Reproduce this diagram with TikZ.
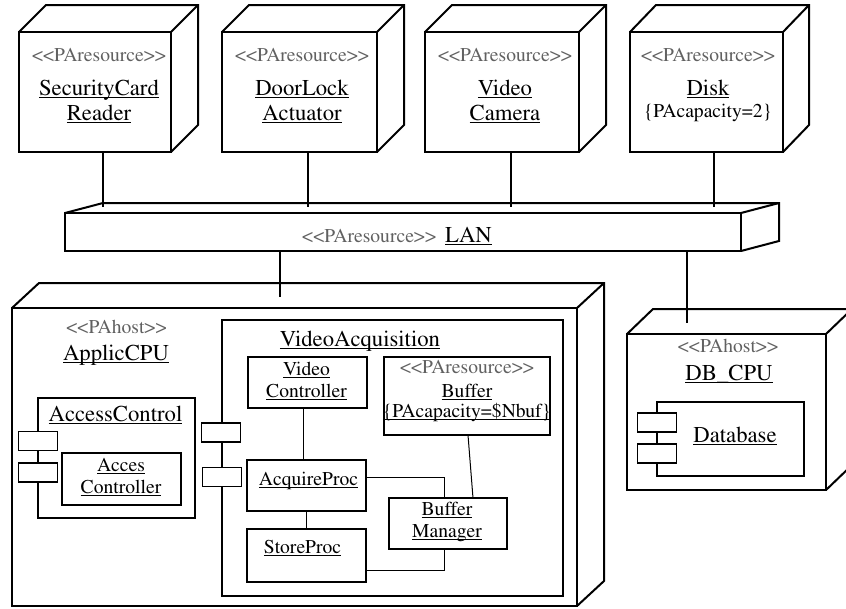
\documentclass[tikz,border=0pt]{standalone}
\usepackage[T1]{fontenc}
\usepackage{mathptmx}
\usetikzlibrary{calc}

\newcommand\namefont{\rmfamily\fontsize{22.7}{26}\selectfont}
\newcommand\partfont{\rmfamily\fontsize{19.6}{23}\selectfont}
% underlined instance name
\newcommand\undl[1]{\setbox0=\hbox{#1}\rlap{\rule[-2.6pt]{\wd0}{1.1pt}}\box0}
% stereotype brackets, kept as two separate characters
\newcommand\lt{\textless\kern0pt\textless}
\newcommand\gt{\textgreater\kern0pt\textgreater}

\tikzset{
  edge/.style={line width=2pt, line join=miter},
  face/.style={draw, edge, fill=white, inner sep=0pt, outer sep=0pt},
  part/.style={draw, line width=2pt, fill=white, inner sep=0pt, outer sep=0pt},
  port/.style={draw, line width=1.6pt, fill=white, inner sep=0pt, outer sep=0pt,
               minimum width=39pt, minimum height=19pt},
  link/.style={line width=1pt},
  stereotext/.style={anchor=base, inner sep=0pt, text=black!62, font=\partfont},
  nametext/.style={anchor=base, inner sep=0pt, font=\namefont},
  parttext/.style={anchor=base, inner sep=0pt, font=\partfont},
}

% top and right faces of a 3D node box
\newcommand\cubedepth[3]{%
  \draw[edge] (#1.north west) -- ++(#2,-#3) -- ([shift={(#2,-#3)}]#1.north east)
    -- ([shift={(#2,-#3)}]#1.south east) -- (#1.south east);
  \draw[edge] (#1.north east) -- ++(#2,-#3);}

\begin{document}
\begin{tikzpicture}[x=1pt,y=-1pt]
\useasboundingbox (0,0) rectangle (846,608);
\clip (0,0) rectangle (846,608);

% ---------- resource devices ----------
\node[face, minimum width=152pt, minimum height=120pt] (scr) at (95,92) {};
\cubedepth{scr}{27}{27}
\node[stereotext] (scrS) at (99,61) {\lt PAresource\gt};
\node[nametext] (scrA) at (99,95) {\undl{SecurityCard}};
\node[nametext] (scrB) at (99,120) {\undl{Reader}};

\node[face, minimum width=155pt, minimum height=120pt] (dla) at (299.5,92) {};
\cubedepth{dla}{27}{27}
\node[stereotext] (dlaS) at (302,61) {\lt PAresource\gt};
\node[nametext] (dlaA) at (302,95) {\undl{DoorLock}};
\node[nametext] (dlaB) at (302,120) {\undl{Actuator}};

\node[face, minimum width=154pt, minimum height=120pt] (cam) at (502,92) {};
\cubedepth{cam}{27}{27}
\node[stereotext] (camS) at (505,61) {\lt PAresource\gt};
\node[nametext] (camA) at (505,95) {\undl{Video}};
\node[nametext] (camB) at (505,120) {\undl{Camera}};

\node[face, minimum width=153pt, minimum height=120pt] (dsk) at (706.5,92) {};
\cubedepth{dsk}{26}{27}
\node[stereotext] (dskS) at (708,61) {\lt PAresource\gt};
\node[nametext] (dskA) at (708,95) {\undl{Disk}};
\node[parttext] (dskB) at (708,117) {\{PAcapacity=2\}};

% ---------- LAN ----------
\coordinate (lanTop) at (403,207);
\draw[edge] ([xshift=8pt]scr.south) -- ([xshift=8pt]scr.south |- lanTop);
\draw[edge] ([xshift=8.5pt]dla.south) -- ([xshift=8.5pt]dla.south |- lanTop);
\draw[edge] ([xshift=9pt]cam.south) -- ([xshift=9pt]cam.south |- lanTop);
\draw[edge] ([xshift=7.5pt]dsk.south) -- ([xshift=7.5pt]dsk.south |- lanTop);
\node[face, minimum width=676pt, minimum height=38pt] (lan) at (403,232) {};
\cubedepth{lan}{38}{10}
\node[stereotext, anchor=base west] (lanS) at (302,242) {\lt PAresource\gt};
\node[nametext, anchor=base west] (lanN) at (445,242) {\undl{LAN}};

% ---------- ApplicCPU ----------
\node[face, minimum width=565pt, minimum height=298pt] (app) at (294.5,457) {};
\cubedepth{app}{27}{25}
\coordinate (appTop) at (280,297);
\draw[edge] (lan.south -| appTop) -- (appTop);
\node[stereotext] (appS) at (116.5,333) {\lt PAhost\gt};
\node[nametext] (appN) at (116,360) {\undl{ApplicCPU}};

% AccessControl component
\node[part, minimum width=157pt, minimum height=120pt] (acc) at (116.5,458) {};
\node[nametext] (accN) at (115.5,421) {\undl{AccessControl}};
\node[port] (accP1) at (38,441) {};
\node[port] (accP2) at (38,472.5) {};
\node[part, minimum width=119pt, minimum height=52pt] (actl) at (121.5,479) {};
\node[parttext] (actlA) at (121,471) {\undl{Acces}};
\node[parttext] (actlB) at (121,493) {\undl{Controller}};

% VideoAcquisition component
\node[part, minimum width=341pt, minimum height=276pt] (va) at (392.5,458) {};
\node[nametext] (vaN) at (360,346) {\undl{VideoAcquisition}};
\node[port] (vaP1) at (221,432.5) {};
\node[port] (vaP2) at (222,477) {};

\node[part, minimum width=119pt, minimum height=51pt] (vc) at (307.5,382.5) {};
\node[parttext] (vcA) at (306.5,375) {\undl{Video}};
\node[parttext] (vcB) at (306.5,397) {\undl{Controller}};

\node[part, minimum width=166pt, minimum height=78pt] (buf) at (467,396) {};
\node[stereotext] (bufS) at (467,373) {\lt PAresource\gt};
\node[parttext] (bufA) at (467,397) {\undl{Buffer}};
\node[parttext] (bufB) at (467,417) {\undl{\{PAcapacity=\$Nbuf\}}};

\node[part, minimum width=119pt, minimum height=51pt] (ap) at (306.5,485.5) {};
\node[parttext] (apN) at (308.5,485) {\undl{AcquireProc}};

\node[part, minimum width=119pt, minimum height=53pt] (sp) at (306.5,555.5) {};
\node[parttext] (spN) at (302.5,553) {\undl{StoreProc}};

\node[part, minimum width=118pt, minimum height=51pt] (bm) at (448,523.5) {};
\node[parttext] (bmA) at (447,515) {\undl{Buffer}};
\node[parttext] (bmB) at (447,537) {\undl{Manager}};

% internal links
\draw[link] ([xshift=-4pt]vc.south) -- ([xshift=-4pt]vc.south |- ap.north);
\draw[link] (ap.south) -- (sp.north);
\draw[link] ([yshift=8.5pt]ap.east) -| ([xshift=-4pt]bm.north);
\draw[link] ([xshift=1pt]buf.south) -- ([xshift=25pt]bm.north);
\draw[link] ([yshift=-14.5pt]sp.east) -| ([xshift=-4pt]bm.south);

% ---------- DB_CPU ----------
\node[face, minimum width=199pt, minimum height=156pt] (db) at (726.5,412) {};
\cubedepth{db}{26}{25}
\coordinate (dbTop) at (687,323);
\draw[edge] (lan.south -| dbTop) -- (dbTop);
\node[stereotext] (dbS) at (728,352) {\lt PAhost\gt};
\node[nametext] (dbN) at (729,380) {\undl{DB\_CPU}};
\node[part, minimum width=147pt, minimum height=74pt] (dbase) at (730.5,439) {};
\node[port] (dbP1) at (657,422.5) {};
\node[port] (dbP2) at (657,453.5) {};
\node[nametext] (dbaseN) at (735,442) {\undl{Database}};
\end{tikzpicture}
\end{document}
